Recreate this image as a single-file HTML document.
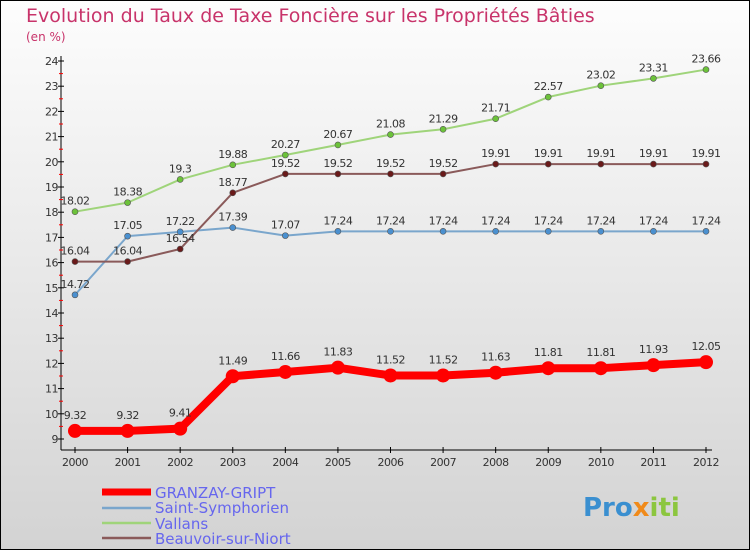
<!DOCTYPE html>
<html><head><meta charset="utf-8"><style>
html,body{margin:0;padding:0}
body{width:750px;height:550px;overflow:hidden;font-family:"DejaVu Sans","Liberation Sans",sans-serif}
#c{position:absolute;left:0;top:0;width:748px;height:548px;border:1px solid #000;background:linear-gradient(#fdfdfd,#d3d3d3)}
</style></head><body>
<div id="c"></div>
<svg id="s" width="750" height="550" style="position:absolute;left:0;top:0">
<text x="26" y="22" font-size="19" fill="#c8336a">Evolution du Taux de Taxe Foncière sur les Propriétés Bâties</text>
<text x="26" y="41" font-size="12" fill="#c8336a">(en %)</text>
<g id="axes"></g><g id="series"></g>
<g>
<line x1="102" y1="492" x2="151" y2="492" stroke="#f00" stroke-width="7"/>
<text x="155" y="498" font-size="15" fill="#6666ee">GRANZAY-GRIPT</text>
<line x1="102" y1="508" x2="151" y2="508" stroke="#7aa6cc" stroke-width="2.5"/>
<text x="155" y="513" font-size="15" fill="#6666ee">Saint-Symphorien</text>
<line x1="102" y1="523" x2="151" y2="523" stroke="#9fd47a" stroke-width="2.5"/>
<text x="155" y="529" font-size="15" fill="#6666ee">Vallans</text>
<line x1="102" y1="538" x2="151" y2="538" stroke="#8a5a5a" stroke-width="2.5"/>
<text x="155" y="544" font-size="15" fill="#6666ee">Beauvoir-sur-Niort</text>
</g>
<g><text x="583" y="516" font-size="26" font-weight="bold" fill="#3a8fd0">Pro<tspan fill="#f08a1a">x</tspan><tspan fill="#8cc63f">iti</tspan></text></g>
</svg>
<script>
const years=[2000,2001,2002,2003,2004,2005,2006,2007,2008,2009,2010,2011,2012];
const yTicks=[9,10,11,12,13,14,15,16,17,18,19,20,21,22,23,24];
const granzay=[9.32,9.32,9.41,11.49,11.66,11.83,11.52,11.52,11.63,11.81,11.81,11.93,12.05];
const saintSymphorien=[14.72,17.05,17.22,17.39,17.07,17.24,17.24,17.24,17.24,17.24,17.24,17.24,17.24];
const vallans=[18.02,18.38,19.3,19.88,20.27,20.67,21.08,21.29,21.71,22.57,23.02,23.31,23.66];
const beauvoir=[16.04,16.04,16.54,18.77,19.52,19.52,19.52,19.52,19.91,19.91,19.91,19.91,19.91];
const NS="http://www.w3.org/2000/svg";
const x=i=>75+i*(706-75)/(years.length-1);
const y=v=>439-(v-9)*(439-61)/15;
function mk(t,a,p){const e=document.createElementNS(NS,t);for(const k in a)e.setAttribute(k,a[k]);p.appendChild(e);return e;}
const ax=document.getElementById('axes');
let e=mk('line',{x1:61,y1:56,x2:61,y2:450,stroke:'#000'},ax);


e=mk('line',{x1:61,y1:450,x2:712,y2:450,stroke:'#000'},ax);


yTicks.forEach(v=>{
 mk('line',{x1:58,x2:64,y1:y(v),y2:y(v),stroke:'#000'},ax);
 if(v<24)mk('line',{x1:59,x2:63,y1:y(v+0.5),y2:y(v+0.5),stroke:'#f00'},ax);
 const t=mk('text',{x:58,y:y(v)+4,'font-size':11,'text-anchor':'end',fill:'#333','letter-spacing':'-0.5'},ax);t.textContent=v;
 
 
});
years.forEach((yr,i)=>{
 mk('line',{x1:x(i),x2:x(i),y1:447,y2:453,stroke:'#000'},ax);
 const t=mk('text',{x:x(i),y:466,'font-size':11,'text-anchor':'middle',fill:'#333','letter-spacing':'-0.5'},ax);t.textContent=yr;
 
 
});
const sg=document.getElementById('series');
function draw(data,color,w,r,name,dot){
 const g=mk('g',{},sg);
 
 
 mk('polyline',{points:data.map((v,i)=>x(i)+','+y(v)).join(' '),fill:'none',stroke:color,'stroke-width':w,'stroke-linejoin':'round'},g);
 data.forEach((v,i)=>{
  const c=mk('circle',{cx:x(i),cy:y(v),r:r,fill:dot,stroke:'#555','stroke-width':r>4?0:0.6},g);
  
  
  const t=mk('text',{x:x(i),y:y(v)-(r>4?12:7),'font-size':11,'text-anchor':'middle',fill:'#333','letter-spacing':'-0.5'},g);
  t.textContent=v;
  
  
 });
}
draw(saintSymphorien,'#7aa6cc',2,3,'saint-symphorien','#4a90d0');
draw(vallans,'#9fd47a',2,3,'vallans','#6cc23a');
draw(beauvoir,'#8a5a5a',2,3,'beauvoir','#6a1a1a');
draw(granzay,'#f00',8,7,'granzay','#f00');
</script>
</body></html>
